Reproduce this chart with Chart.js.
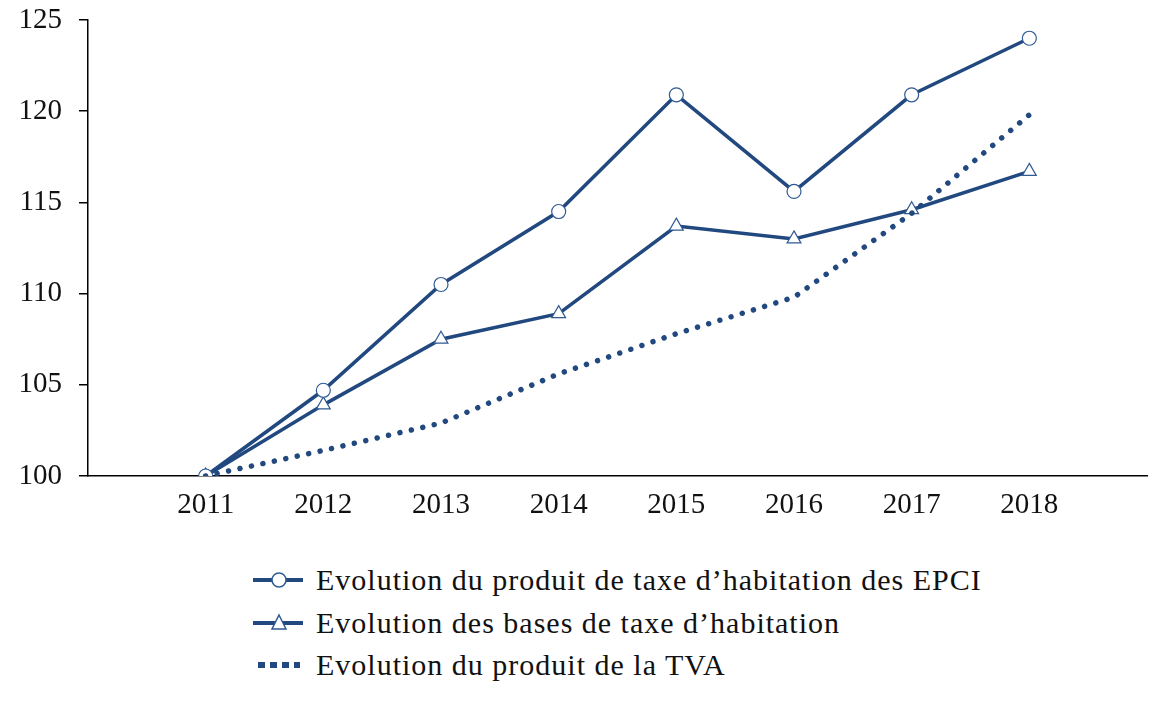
<!DOCTYPE html>
<html>
<head>
<meta charset="utf-8">
<script src="https://cdn.jsdelivr.net/npm/chart.js@4"></script>
<style>
  body { margin: 0; background: #fff; }
  #wrap { position: relative; width: 1160px; height: 701px; }
  #chart { position: absolute; left: 0; top: 0; }
  .legend { position: absolute; left: 253px; top: 559px; font-family: "Liberation Serif", serif; font-size: 30px; letter-spacing: 1px; color: #111; }
  .row { height: 42.5px; display: flex; align-items: center; white-space: nowrap; }
  .row svg { margin-right: 13px; }
</style>
</head>
<body>
<div id="wrap">
  <canvas id="chart" width="1160" height="540"></canvas>
  <div class="legend" id="legend"></div>
</div>
<script>
const years = ["", "2011", "2012", "2013", "2014", "2015", "2016", "2017", "2018", ""];
const produitTH = [null, 100, 104.7, 110.5, 114.5, 120.9, 115.6, 120.9, 124.0, null];
const basesTH = [null, 100, 103.9, 107.5, 108.9, 113.7, 113.0, 114.6, 116.7, null];
const produitTVA = [null, 100, 101.4, 102.9, 105.6, 107.8, 109.8, 114.4, 119.8, null];
const seriesNames = [
  "Evolution du produit de taxe d\u2019habitation des EPCI",
  "Evolution des bases de taxe d\u2019habitation",
  "Evolution du produit de la TVA",
];
const yTicks = [100, 105, 110, 115, 120, 125];

const blue = "#21497f";
const font = "'Liberation Serif', serif";

new Chart(document.getElementById("chart"), {
  type: "line",
  data: {
    labels: years,
    datasets: [
      {
        label: seriesNames[0],
        data: produitTH,
        borderColor: blue,
        borderWidth: 3.5,
        pointStyle: "circle",
        pointRadius: 7,
        pointBackgroundColor: "#fff",
        pointBorderColor: "#2f5a92",
        pointBorderWidth: 1.2,
        order: 1,
      },
      {
        label: seriesNames[1],
        data: basesTH,
        borderColor: blue,
        borderWidth: 3.5,
        pointStyle: "triangle",
        pointRadius: 8,
        pointBackgroundColor: "#fff",
        pointBorderColor: "#2f5a92",
        pointBorderWidth: 1.2,
        order: 2,
      },
      {
        label: seriesNames[2],
        data: produitTVA,
        borderColor: blue,
        borderWidth: 5.5,
        borderDash: [0.01, 11.7],
        borderCapStyle: "round",
        pointRadius: 0,
        order: 0,
      },
    ],
  },
  options: {
    responsive: false,
    animation: false,
    layout: { padding: { top: 20, right: 13, left: 0, bottom: 0 } },
    plugins: { legend: { display: false }, tooltip: { enabled: false } },
    scales: {
      x: {
        offset: false,
        grid: { display: false, drawTicks: false },
        border: { display: true, color: "#000", width: 1.5 },
        ticks: {
          autoSkip: false,
          maxRotation: 0,
          padding: 12,
          color: "#111",
          font: { family: font, size: 29 },
        },
        afterFit: (scale) => { scale.height = 64; scale.paddingLeft = 0; scale.paddingRight = 0; },
      },
      y: {
        min: 100,
        max: 125,
        afterBuildTicks: (scale) => { scale.ticks = yTicks.map((v) => ({ value: v })); },
        grid: { drawOnChartArea: false, drawTicks: true, tickLength: 9, color: "#000", lineWidth: 1.5 },
        border: { display: true, color: "#000", width: 1.5 },
        ticks: {
          padding: 17,
          color: "#111",
          font: { family: font, size: 29 },
        },
        afterFit: (scale) => { scale.width = 88; scale.paddingTop = 0; scale.paddingBottom = 0; },
      },
    },
  },
});

// legend below the chart
const symbols = [
  '<svg width="50" height="20"><line x1="0" y1="10" x2="50" y2="10" stroke="' + blue + '" stroke-width="4"/><circle cx="26" cy="10" r="7" fill="#fff" stroke="#2f5a92" stroke-width="1.5"/></svg>',
  '<svg width="50" height="20"><line x1="0" y1="10" x2="50" y2="10" stroke="' + blue + '" stroke-width="4"/><polygon points="26,2 33,16 19,16" fill="#fff" stroke="#2f5a92" stroke-width="1.5"/></svg>',
  '<svg width="50" height="20"><line x1="5" y1="10" x2="47" y2="10" stroke="' + blue + '" stroke-width="6" stroke-dasharray="7 5"/></svg>',
];
document.getElementById("legend").innerHTML = seriesNames
  .map((name, i) => '<div class="row">' + symbols[i] + "<span>" + name + "</span></div>")
  .join("");
</script>
</body>
</html>
